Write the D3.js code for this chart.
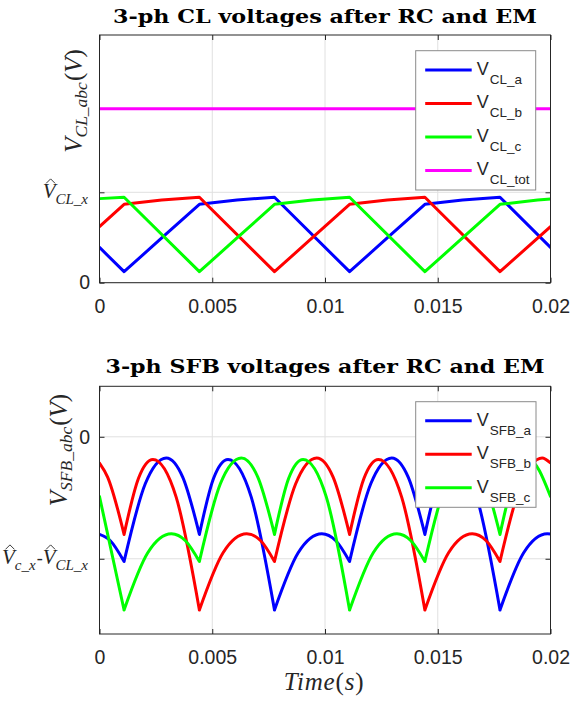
<!DOCTYPE html>
<html><head><meta charset="utf-8">
<script src="https://cdn.jsdelivr.net/npm/d3@7/dist/d3.min.js"></script>
<style>body{margin:0;background:#fff}</style>
</head><body>
<svg id="c" width="573" height="702"></svg>
<script>
// ---------------- data ----------------
const xTicks = [0, 0.005, 0.01, 0.015, 0.02];
const xTickLabels = ["0", "0.005", "0.01", "0.015", "0.02"];

// top plot: CL voltages (units of V_CL_x peak)
const clA_t = [0, 0.00109, 0.00276, 0.00443, 0.0061, 0.00776, 0.01109, 0.01276, 0.01443, 0.0161, 0.01776, 0.02];
const clA_v = [0.39, 0.122, 0.495, 0.867, 0.915, 0.945, 0.122, 0.495, 0.867, 0.915, 0.945, 0.39];
const clB_t = [0, 0.00109, 0.00276, 0.00443, 0.00776, 0.00943, 0.01109, 0.01276, 0.01443, 0.01776, 0.02];
const clB_v = [0.62, 0.867, 0.915, 0.945, 0.122, 0.495, 0.867, 0.915, 0.945, 0.122, 0.62];
const clC_t = [0, 0.00109, 0.00443, 0.0061, 0.00776, 0.00943, 0.01109, 0.01443, 0.0161, 0.01776, 0.01943, 0.02];
const clC_v = [0.93, 0.945, 0.122, 0.495, 0.867, 0.915, 0.945, 0.122, 0.495, 0.867, 0.915, 0.925];
const clTot_t = [0, 0.02];
const clTot_v = [1.925, 1.925];
const clYTicks = [0, 1];

// bottom plot: SFB voltages (units of V_c_x - V_CL_x, negative)
const sfbA_t = [0, 0.00048, 0.00109, 0.00203, 0.00296, 0.00369, 0.00443, 0.00506, 0.0057, 0.00673, 0.00776, 0.00881, 0.00986, 0.01048, 0.01109, 0.01203, 0.01296, 0.01369, 0.01443, 0.01506, 0.0157, 0.01673, 0.01776, 0.01881, 0.01986, 0.02];
const sfbA_v = [-0.80, -0.852, -1.022, -0.385, -0.173, -0.33, -0.80, -0.34, -0.186, -0.495, -1.42, -0.951, -0.795, -0.852, -1.022, -0.385, -0.173, -0.33, -0.80, -0.34, -0.186, -0.495, -1.42, -0.951, -0.795, -0.797];
const sfbB_t = [0, 0.00036, 0.00109, 0.00173, 0.00237, 0.0034, 0.00443, 0.00548, 0.00653, 0.00715, 0.00776, 0.0087, 0.00963, 0.01036, 0.01109, 0.01173, 0.01237, 0.0134, 0.01443, 0.01548, 0.01653, 0.01715, 0.01776, 0.0187, 0.01963, 0.02];
const sfbB_v = [-0.215, -0.33, -0.80, -0.34, -0.186, -0.495, -1.42, -0.951, -0.795, -0.852, -1.022, -0.385, -0.173, -0.33, -0.80, -0.34, -0.186, -0.495, -1.42, -0.951, -0.795, -0.852, -1.022, -0.385, -0.173, -0.215];
const sfbC_t = [0, 0.00109, 0.00214, 0.00319, 0.00381, 0.00443, 0.00536, 0.00629, 0.00702, 0.00776, 0.00839, 0.00903, 0.01006, 0.01109, 0.01214, 0.01319, 0.01381, 0.01443, 0.01536, 0.01629, 0.01702, 0.01776, 0.01839, 0.01903, 0.02];
const sfbC_v = [-0.49, -1.42, -0.951, -0.795, -0.852, -1.022, -0.385, -0.173, -0.33, -0.80, -0.34, -0.186, -0.495, -1.42, -0.951, -0.795, -0.852, -1.022, -0.385, -0.173, -0.33, -0.80, -0.34, -0.186, -0.49];
const sfbYTicks = [-1, 0];

const colors = ["#0000ff", "#ff0000", "#00ff00", "#ff00ff"];
const clLegendSubs = ["CL_a", "CL_b", "CL_c", "CL_tot"];
const sfbLegendSubs = ["SFB_a", "SFB_b", "SFB_c"];
const titles = ["3-ph CL voltages after RC and EM", "3-ph SFB voltages after RC and EM"];

// ---------------- layout ----------------
const svg = d3.select("#c");
const XL = 99.5, XR = 550.5;
const P1 = {top: 35, bot: 282.7}, P2 = {top: 386.3, bot: 634};
const AX = "#262626", GRID = "#e0e0e0";
const LW = 3;
const sans = "'Liberation Sans', Arial, sans-serif";
const serif = "'Liberation Serif', 'Times New Roman', serif";

const x = d3.scaleLinear().domain([0, 0.02]).range([XL, XR]);
const y1 = d3.scaleLinear().domain([0, 2.74]).range([P1.bot, P1.top]);
const y2 = d3.scaleLinear().domain([-1.617, 0.414]).range([P2.bot, P2.top]);

function zip(t, v) { return t.map((d, i) => [d, v[i]]); }

function drawPanel(P, y, yTicks, id) {
  const g = svg.append("g");
  g.selectAll(null).data(xTicks).enter().append("line")
    .attr("x1", d => x(d)).attr("x2", d => x(d)).attr("y1", P.top).attr("y2", P.bot)
    .attr("stroke", GRID).attr("stroke-width", 1);
  g.selectAll(null).data(yTicks).enter().append("line")
    .attr("x1", XL).attr("x2", XR).attr("y1", d => y(d)).attr("y2", d => y(d))
    .attr("stroke", GRID).attr("stroke-width", 1);
  svg.append("clipPath").attr("id", id).append("rect")
    .attr("x", XL).attr("y", P.top).attr("width", XR - XL).attr("height", P.bot - P.top);
  return g;
}

function drawAxes(P, y, yTicks, yFmt) {
  const g = svg.append("g");
  g.append("g").attr("transform", `translate(0,${P.bot})`)
    .call(d3.axisBottom(x).tickValues(xTicks).tickFormat((d, i) => xTickLabels[i]).tickSize(-5).tickSizeOuter(0).tickPadding(16));
  g.append("g").attr("transform", `translate(0,${P.top})`)
    .call(d3.axisTop(x).tickValues(xTicks).tickFormat("").tickSize(-5).tickSizeOuter(0));
  g.append("g").attr("transform", `translate(${XL},0)`)
    .call(d3.axisLeft(y).tickValues(yTicks).tickFormat(yFmt).tickSize(-5).tickSizeOuter(0).tickPadding(9.5));
  g.append("g").attr("transform", `translate(${XR},0)`)
    .call(d3.axisRight(y).tickValues(yTicks).tickFormat("").tickSize(-5).tickSizeOuter(0));
  g.selectAll(".domain").remove();
  g.selectAll(".tick line").attr("stroke", AX);
  g.selectAll(".tick text").attr("fill", AX).style("font-family", sans).style("font-size", "19.5px");
  g.append("rect").attr("x", XL).attr("y", P.top).attr("width", XR - XL).attr("height", P.bot - P.top)
    .attr("fill", "none").attr("stroke", AX).attr("stroke-width", 1);
}

function mathText(parent, parts, attrs) {
  const t = parent.append("text").style("font-family", serif).attr("fill", AX);
  Object.entries(attrs).forEach(([k, v]) => t.attr(k, v));
  let shift = 0;
  const hatIdx = [];
  let idx = 0;
  parts.forEach(p => {
    const ts = t.append("tspan").text(p.t).style("font-size", p.size + "px")
      .style("font-style", p.italic === false ? "normal" : "italic");
    if (p.dx) ts.attr("dx", p.dx);
    const target = p.sub || 0;
    if (target !== shift) { ts.attr("dy", target - shift); shift = target; }
    if (p.hat) hatIdx.push(idx);
    idx += p.t.length;
  });
  hatIdx.forEach(i => {
    const e = t.node().getExtentOfChar(i);
    const cx = e.x + e.width * 0.62, ty = e.y + e.height * 0.12;
    parent.append("path")
      .attr("d", `M${cx - 4.5},${ty + 1.5} L${cx},${ty - 3} L${cx + 4.5},${ty + 1.5}`)
      .attr("fill", "none").attr("stroke", AX).attr("stroke-width", 0.9);
  });
  return t;
}

function drawLinear(tArr, vArr, y, color, clip) {
  svg.append("path").datum(zip(tArr, vArr))
    .attr("clip-path", `url(#${clip})`)
    .attr("d", d3.line().x(d => x(d[0])).y(d => y(d[1])))
    .attr("fill", "none").attr("stroke", color).attr("stroke-width", LW)
    .attr("stroke-linejoin", "round").attr("stroke-linecap", "round");
}

function drawArcs(tArr, vArr, y, color, clip) {
  const pts = zip(tArr, vArr);
  const segs = []; let cur = [pts[0]];
  for (let i = 1; i < pts.length; i++) {
    cur.push(pts[i]);
    if (i < pts.length - 1 && pts[i][1] < pts[i - 1][1] && pts[i][1] < pts[i + 1][1]) {
      segs.push(cur); cur = [pts[i]];
    }
  }
  segs.push(cur);
  const lg = d3.line().x(d => x(d[0])).y(d => y(d[1])).curve(d3.curveMonotoneX);
  svg.append("path").attr("clip-path", `url(#${clip})`)
    .attr("d", segs.map(s => lg(s)).join(""))
    .attr("fill", "none").attr("stroke", color).attr("stroke-width", LW)
    .attr("stroke-linejoin", "round").attr("stroke-linecap", "round");
}

function drawLegend(box, subs, firstY) {
  const g = svg.append("g");
  g.append("rect").attr("x", box.x).attr("y", box.y).attr("width", box.w).attr("height", box.h)
    .attr("fill", "#fff").attr("stroke", "#8a8a8a").attr("stroke-width", 1);
  subs.forEach((s, i) => {
    const yy = firstY + i * 33.5;
    g.append("line").attr("x1", box.x + 9.5).attr("x2", box.x + 56).attr("y1", yy).attr("y2", yy)
      .attr("stroke", colors[i]).attr("stroke-width", LW);
    const t = g.append("text").attr("x", box.x + 61).attr("y", yy + 4.8)
      .style("font-family", sans).attr("fill", AX);
    t.append("tspan").text("V").style("font-size", "18px");
    t.append("tspan").text(s).style("font-size", "13.5px").attr("dx", 1).attr("dy", 9);
  });
}

// ---------------- top panel ----------------
drawPanel(P1, y1, clYTicks, "clip1");
drawLinear(clTot_t, clTot_v, y1, colors[3], "clip1");
drawLinear(clA_t, clA_v, y1, colors[0], "clip1");
drawLinear(clB_t, clB_v, y1, colors[1], "clip1");
drawLinear(clC_t, clC_v, y1, colors[2], "clip1");
drawAxes(P1, y1, clYTicks, d => d === 0 ? "0" : "");
drawLegend({x: 415.7, y: 50.7, w: 120, h: 139.3}, clLegendSubs, 70);

// ---------------- bottom panel ----------------
drawPanel(P2, y2, sfbYTicks, "clip2");
drawArcs(sfbA_t, sfbA_v, y2, colors[0], "clip2");
drawArcs(sfbB_t, sfbB_v, y2, colors[1], "clip2");
drawArcs(sfbC_t, sfbC_v, y2, colors[2], "clip2");
drawAxes(P2, y2, sfbYTicks, d => d === 0 ? "0" : "");
drawLegend({x: 415.7, y: 401.7, w: 120.3, h: 105.6}, sfbLegendSubs, 420.7);

// ---------------- titles ----------------
[[titles[0], 22.7, 424], [titles[1], 373.3, 439]].forEach(([txt, yy, len]) => {
  svg.append("text").text(txt).attr("x", (XL + XR) / 2).attr("y", yy)
    .attr("text-anchor", "middle").attr("textLength", len).attr("lengthAdjust", "spacingAndGlyphs")
    .style("font-family", "'DejaVu Serif', serif").style("font-weight", "bold").style("font-size", "19px")
    .attr("fill", "#000");
});

// ---------------- axis labels ----------------
const gl = svg.append("g");
mathText(gl, [
  {t: "V", size: 25}, {t: "CL_abc", size: 17.5, sub: 5},
  {t: "(", size: 25, italic: false, dx: 1}, {t: "V", size: 25}, {t: ")", size: 25, italic: false}
], {"text-anchor": "middle", transform: "translate(82,101) rotate(-90)"});
mathText(gl, [
  {t: "V", size: 25}, {t: "SFB_abc", size: 17.5, sub: 5},
  {t: "(", size: 25, italic: false, dx: 1}, {t: "V", size: 25}, {t: ")", size: 25, italic: false}
], {"text-anchor": "middle", transform: "translate(67,450) rotate(-90)"});

// tick math labels
mathText(gl, [{t: "V", size: 21, hat: true}, {t: "CL_x", size: 15, sub: 6}],
  {"text-anchor": "end", x: 88, y: 198});
mathText(gl, [{t: "V", size: 21, hat: true}, {t: "c_x", size: 15, sub: 6},
  {t: "-", size: 18, italic: false, dx: 1}, {t: "V", size: 21, hat: true}, {t: "CL_x", size: 15, sub: 6}],
  {"text-anchor": "end", x: 88, y: 564});

// x label
const xl = svg.append("text").attr("x", 324).attr("y", 690).attr("text-anchor", "middle")
  .style("font-family", serif).attr("fill", AX).style("font-size", "25px").style("letter-spacing", "0.8px");
xl.append("tspan").text("Time").style("font-style", "italic");
xl.append("tspan").text("(");
xl.append("tspan").text("s").style("font-style", "italic");
xl.append("tspan").text(")");
</script>
</body></html>
